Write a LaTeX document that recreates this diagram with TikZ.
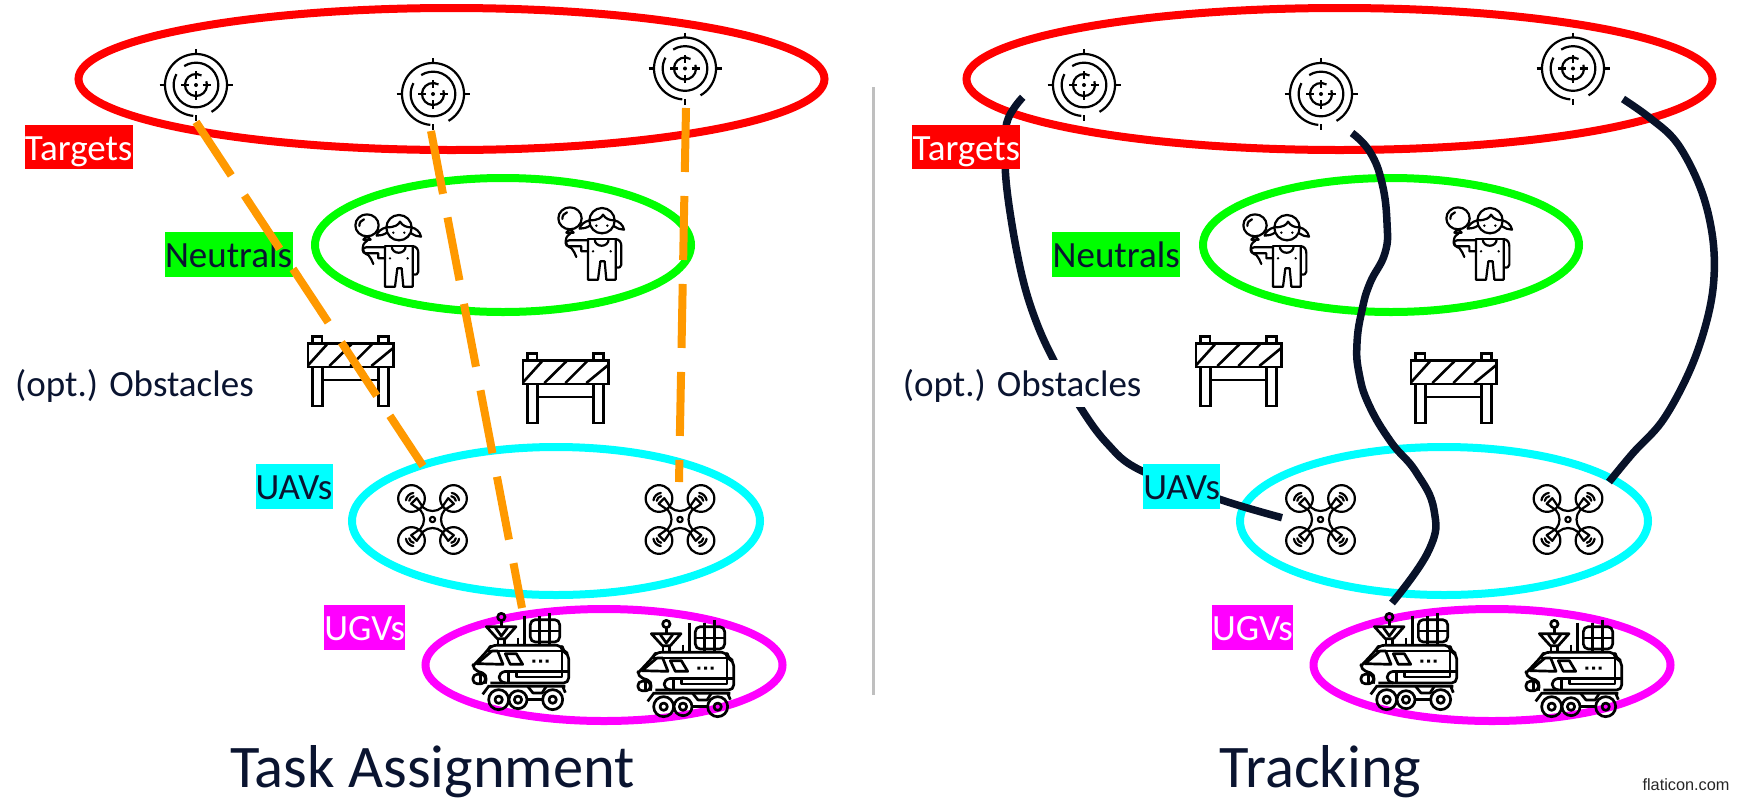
\documentclass[tikz,border=0pt]{standalone}
\usepackage{fontspec}
\setmainfont{Carlito}
\newfontfamily\arialfont{Liberation Sans}
\usetikzlibrary{shapes.geometric}
\definecolor{navy}{HTML}{0A1430}
\definecolor{curvecol}{HTML}{081229}
\definecolor{orangeline}{HTML}{FF9900}
\definecolor{divider}{HTML}{BFBFBF}
\definecolor{setred}{HTML}{FF0000}
\definecolor{setgreen}{HTML}{00FF00}
\definecolor{setcyan}{HTML}{00FFFF}
\definecolor{setmag}{HTML}{FF00FF}
\tikzset{
  setring/.style={draw=#1,ellipse,line width=8pt,inner sep=0pt,fill=none},
  tagbox/.style={fill=#1,inner sep=0pt,text height=35.4pt,text depth=9.4pt,font=\fontsize{37}{37}\selectfont,text=navy},
  assign/.style={draw=orangeline,line width=8pt,dash pattern=on 64pt off 24pt},
  track/.style={draw=curvecol,line width=7.5pt},
  titletext/.style={font=\fontsize{60.5}{60.5}\selectfont,text=navy,inner sep=0pt,anchor=base},
  targeticon/.pic={
    \begin{scope}[line width=2.2pt]
      \draw (60:93) arc (60:-265:93);
      \draw (-122:67) arc (-122:209:67);
      \draw (-20:33) arc (-20:300:33);
      \draw (0,-108)--(0,-91) (0,91)--(0,109) (-109,0)--(-92,0) (92,0)--(110,0);
      \draw (0,-41)--(0,-18) (0,18)--(0,44) (-44,0)--(-20,0) (20,0)--(45,0);
      \fill (0,0) circle (6);
    \end{scope}},
  girlicon/.pic={
    \begin{scope}[line width=2.2pt,shift={(-45,-72)},line join=round,line cap=round]
      \draw (81,106) ellipse (35 and 33);
      \draw (58,108) .. controls (58,98) and (63,90) .. (72,88);
      \draw (70,149)--(92,149)--(81,138)--cycle;
      \draw (82,152) .. controls (60,165) and (65,190) .. (85,195) .. controls (92,203) and (96,212) .. (100,222);
      \draw (177,113) circle (38);
      \draw (140,112) .. controls (165,112) and (175,105) .. (180,95) .. controls (188,108) and (200,112) .. (214,112);
      \draw (140,112) .. controls (125,115) and (112,125) .. (110,137) .. controls (120,137) and (130,135) .. (141,128);
      \draw (214,112) .. controls (228,115) and (240,125) .. (243,140) .. controls (232,140) and (222,136) .. (213,130);
      \fill (160,128) circle (4) (193,128) circle (4) (177,150) circle (4);
      \draw (135,170)--(135,290)--(165,290)--(172,235)--(185,235)--(190,290)--(218,290)--(218,170);
      \draw (155,168) .. controls (155,195) and (197,195) .. (197,168);
      \draw (135,168)--(218,168);
      \draw (135,172)--(78,172) .. controls (65,172) and (65,190) .. (78,190) -- (115,190)--(115,205)--(135,205);
      \draw (218,168) .. controls (230,170) and (235,178) .. (235,190) -- (235,245) .. controls (235,253) and (228,255) .. (219,253);
      \fill (150,205) circle (4) (203,205) circle (4);
    \end{scope}},
  barriericon/.pic={
    \begin{scope}[line width=2.6pt,shift={(-545,-490)}]
      \draw (548,512) rectangle (805,583);
      \draw (562,512)--(562,491)--(590,491)--(590,512) (760,512)--(760,491)--(790,491)--(790,512);
      \draw (562,583)--(562,700)--(592,700)--(592,583) (760,583)--(760,700)--(790,700)--(790,583);
      \draw (592,622)--(760,622);
      \draw (548,578)--(605,515) (612,580)--(678,515) (675,580)--(740,515) (738,580)--(805,525);
    \end{scope}},
  droneicon/.pic={
    \begin{scope}[line width=2.2pt,line join=round,line cap=round]
      \foreach \sx/\sy/\a in {-1/-1/180,1/-1/270,-1/1/90,1/1/0}{
        \draw ({\sx*63},{\sy*63}) circle (40);
        \draw ({\sx*54},{\sy*54}) ++(\a+8:16) arc (\a+8:\a+82:16);
        \draw ({\sx*54},{\sy*54}) ++(\a+8:26) arc (\a+8:\a+82:26);
      }
      \draw (-64,-47)--(-47,-64)--(-28,-36) .. controls (-12,-22) and (12,-22) .. (28,-36)--(47,-64)--(64,-47)--(36,-28)
        .. controls (22,-12) and (22,12) .. (36,28)--(64,47)--(47,64)--(28,36)
        .. controls (12,22) and (-12,22) .. (-28,36)--(-47,64)--(-64,47)--(-36,28)
        .. controls (-22,12) and (-22,-12) .. (-36,-28)--cycle;
      \draw (0,0) circle (8);
    \end{scope}},
  rovericon/.pic={
    \begin{scope}[line width=2.7pt,shift={(-65,-38)},line join=round]
      \draw (153,50) circle (11);
      \draw (153,61)--(153,78);
      \draw (108,79)--(197,79)--(165,115)--(141,115)--cycle;
      \draw (135,82)--(153,107)--(172,82);
      \draw (143,115)--(143,135) (163,115)--(163,135);
      \draw (222,46)--(222,135) (203,112)--(203,135);
      \draw[rounded corners=5pt] (240,58) rectangle (328,125);
      \draw (268,58)--(268,125) (298,58)--(298,125) (240,92)--(328,92);
      \draw (268,46)--(268,58) (298,38)--(298,58);
      \draw (268,125)--(268,135) (298,125)--(298,135);
      \draw[rounded corners=5pt] (68,197)--(112,150)--(122,135)--(335,135)--(337,153)--(355,160)--(355,248)--(120,248) (105,250)--(110,222)--(68,208)--(68,197);
      \draw (112,152)--(345,152);
      \draw (80,190)--(125,152)--(142,152)--(158,192)--cycle;
      \draw (165,160)--(198,160)--(217,192)--(180,192)--cycle;
      \fill (246,178) rectangle (255,187) (266,178) rectangle (275,187) (286,178) rectangle (295,187);
      \draw[rounded corners=4pt] (68,222) rectangle (105,250);
      \draw (90,222)--(90,250);
      \draw (165,213)--(355,213);
      \draw (165,213) .. controls (140,218) and (140,243) .. (165,248);
      \draw (175,213)--(175,248);
      \draw (198,213)--(198,230)--(335,230)--(335,213);
      \draw (335,155)--(335,213);
      \draw (112,258)--(345,258) (97,282)--(115,258) (345,277)--(337,258);
      \draw (232,258)--(248,278)--(275,278)--(288,258);
      \draw (145,298) circle (30) (145,298) circle (11);
      \draw (203,298) circle (27) (203,298) circle (11);
      \draw (307,298) circle (30) (307,298) circle (11);
      \draw (230,298)--(277,298);
    \end{scope}}
}
% base of one panel: the four groups and their icons
\newcommand{\panelbase}[2]{%
  \begin{scope}[shift={(#1,0)}]
    \node[setring=setred,minimum width=746pt,minimum height=142pt] (#2red) at (451.5,79) {};
    \node[setring=setgreen,minimum width=376pt,minimum height=134pt] (#2green) at (503,245) {};
    \node[setring=setcyan,minimum width=408pt,minimum height=148pt] (#2cyan) at (556,521) {};
    \node[setring=setmag,minimum width=357pt,minimum height=112pt] (#2mag) at (604,665) {};
    \pic[scale=1/3] (#2t1) at (196,85) {targeticon};
    \pic[scale=1/3] (#2t2) at (433,94) {targeticon};
    \pic[scale=1/3] (#2t3) at (685,68.5) {targeticon};
    \pic[scale=1/3] (#2g1) at (355,214) {girlicon};
    \pic[scale=1/3] (#2g2) at (558,207) {girlicon};
    \pic[scale=1/3] (#2b1) at (307,336) {barriericon};
    \pic[scale=1/3] (#2b2) at (522,353) {barriericon};
    \pic[scale=1/3] (#2d1) at (432.5,519.5) {droneicon};
    \pic[scale=1/3] (#2d2) at (680,519.5) {droneicon};
    \pic[scale=1/3] (#2r1) at (472,613) {rovericon};
    \pic[scale=1/3] (#2r2) at (637,620) {rovericon};
  \end{scope}}
\newcommand{\panellabels}[2]{%
  \begin{scope}[shift={(#1,0)}]
    \node[tagbox=setred,minimum width=108pt,text=white] (#2ltargets) at (78.7,147) {Targets};
    \node[tagbox=setgreen,minimum width=128pt] (#2lneutrals) at (228.5,254.3) {Neutrals};
    \node[tagbox=setcyan,minimum width=77pt] (#2luavs) at (294,486.7) {UAVs};
    \node[tagbox=setmag,minimum width=81pt,text=white] (#2lugvs) at (364.7,627.5) {UGVs};
    \node[fill=white,inner sep=0pt,text height=36.7pt,text depth=10.3pt,minimum width=238pt,text=navy,font=\fontsize{37}{37}\selectfont] (#2lobst) at (134.5,383.5) {(opt.) Obstacles};
  \end{scope}}
\begin{document}
\begin{tikzpicture}[x=1pt,y=-1pt]
  \useasboundingbox (0,0) rectangle (1739,801);
  \panelbase{0}{L}
  \panellabels{0}{L}
  \panelbase{888}{R}
  % divider
  \coordinate (divtop) at (873,87);
  \coordinate (divbot) at (873,695);
  \draw[divider,line width=3pt] (divtop)--(divbot);
  % left panel: assignment lines
  \coordinate (a1s) at (196,122); \coordinate (a1e) at (423,466);
  \coordinate (a2s) at (431,131); \coordinate (a2e) at (522,608);
  \coordinate (a3s) at (686,108); \coordinate (a3e) at (679,482);
  \draw[assign] (a1s)--(a1e);
  \draw[assign] (a2s)--(a2e);
  \draw[assign] (a3s)--(a3e);
  % right panel: tracks
  \coordinate (c1s) at (1022.7,97.3); \coordinate (c1e) at (1282,517.7);
  \coordinate (c2s) at (1352,133); \coordinate (c2e) at (1392,603);
  \coordinate (c3s) at (1623,99); \coordinate (c3e) at (1609,482);
  \draw[track] plot[smooth,tension=.6] coordinates {(c1s) (1006.7,123) (1005.3,170) (1011.7,223) (1023,280) (1036.7,323) (1054,360.7) (1080,406.7) (1106.7,443) (1140,470) (1221.7,500) (c1e)};
  \draw[track] plot[smooth,tension=.75] coordinates {(c2s) (1370,152) (1382,183) (1387,223) (1385,253) (1370,283) (1362,310) (1357,343) (1359,373) (1369,405) (1391,442) (1416,472) (1434,510) (1429,550) (c2e)};
  \draw[track] plot[smooth,tension=.6] coordinates {(c3s) (1650,118) (1677,143) (1700,187) (1712,233) (1714,277) (1707,320) (1690,370) (1663,420) (1633,453) (c3e)};
  \panellabels{887.7}{R}
  % titles
  \node[titletext] (title1) at (432.5,787) {Task Assignment};
  \node[titletext] (title2) at (1320.5,787) {Tracking};
  \node[font=\arialfont\fontsize{16.3}{16.3}\selectfont,text=black!85,inner sep=0pt] (credit) at (1686,785) {flaticon.com};
\end{tikzpicture}
\end{document}
